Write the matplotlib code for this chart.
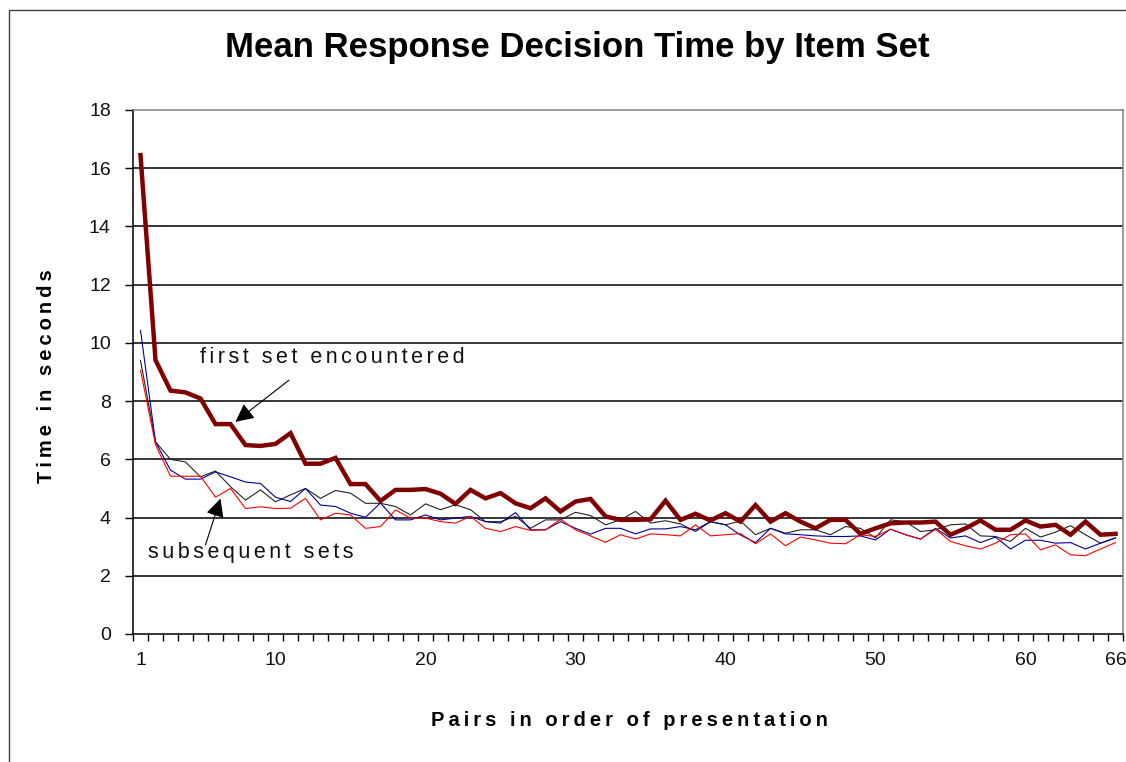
import numpy as np
import matplotlib
matplotlib.use('Agg')
import matplotlib.pyplot as plt
from matplotlib.patches import Rectangle

# pair number (1..66) on the x axis
pairs = np.arange(1, 67)

# first set encountered (thick dark red)
first_set = [16.45, 9.41, 8.36, 8.3, 8.09, 7.21, 7.21, 6.49, 6.46, 6.53,
	6.9, 5.85, 5.85, 6.05, 5.15, 5.15, 4.57, 4.95, 4.95, 4.98,
	4.82, 4.47, 4.95, 4.66, 4.84, 4.49, 4.32, 4.66, 4.21, 4.55,
	4.64, 4.04, 3.92, 3.92, 3.94, 4.58, 3.92, 4.13, 3.9, 4.15,
	3.86, 4.43, 3.86, 4.15, 3.86, 3.63, 3.92, 3.92, 3.44, 3.63,
	3.8, 3.83, 3.83, 3.86, 3.41, 3.63, 3.9, 3.58, 3.58, 3.9,
	3.69, 3.75, 3.41, 3.86, 3.41, 3.44]

# subsequent sets (thin lines)
second_set = [9.4, 6.6, 6.0, 5.91, 5.4, 5.6, 5.06, 4.6, 4.95, 4.54,
	4.78, 5.0, 4.66, 4.93, 4.84, 4.49, 4.49, 4.38, 4.09, 4.47,
	4.27, 4.44, 4.27, 3.86, 3.86, 4.04, 3.63, 3.92, 3.92, 4.18,
	4.07, 3.75, 3.92, 4.21, 3.81, 3.89, 3.78, 3.52, 3.86, 3.75,
	3.88, 3.41, 3.63, 3.46, 3.58, 3.58, 3.41, 3.69, 3.63, 3.3,
	3.92, 3.86, 3.52, 3.58, 3.75, 3.78, 3.37, 3.35, 3.18, 3.63,
	3.33, 3.5, 3.72, 3.41, 3.12, 3.3]

third_set = [10.43, 6.6, 5.63, 5.32, 5.32, 5.57, 5.4, 5.22, 5.17, 4.7,
	4.55, 5.0, 4.43, 4.38, 4.15, 4.01, 4.5, 3.92, 3.92, 4.09,
	3.92, 3.98, 4.04, 3.86, 3.81, 4.17, 3.58, 3.58, 3.86, 3.63,
	3.43, 3.63, 3.63, 3.44, 3.61, 3.61, 3.69, 3.58, 3.86, 3.75,
	3.4, 3.14, 3.63, 3.44, 3.41, 3.37, 3.35, 3.35, 3.37, 3.23,
	3.6, 3.41, 3.26, 3.63, 3.3, 3.37, 3.14, 3.33, 2.92, 3.22,
	3.22, 3.12, 3.14, 2.92, 3.12, 3.3]

fourth_set = [9.06, 6.5, 5.42, 5.42, 5.42, 4.7, 5.0, 4.31, 4.37, 4.31,
	4.32, 4.66, 3.92, 4.15, 4.09, 3.63, 3.69, 4.26, 3.98, 3.98,
	3.86, 3.81, 4.04, 3.63, 3.52, 3.69, 3.56, 3.58, 3.94, 3.58,
	3.37, 3.15, 3.41, 3.26, 3.44, 3.41, 3.37, 3.75, 3.37, 3.41,
	3.45, 3.1, 3.44, 3.03, 3.33, 3.23, 3.12, 3.1, 3.41, 3.35,
	3.6, 3.41, 3.26, 3.6, 3.18, 3.03, 2.92, 3.12, 3.41, 3.44,
	2.89, 3.06, 2.72, 2.69, 2.92, 3.14]

x_tick_labels = [1, 10, 20, 30, 40, 50, 60, 66]
y_ticks = list(range(0, 19, 2))

TICK_FONT = ['Liberation Sans Narrow', 'Liberation Sans', 'DejaVu Sans']
TEXT_FONT = ['Liberation Sans', 'DejaVu Sans']


def spaced(txt, sep='\u2009'):
	# mimic the letter spacing of the original texts
	return sep.join(txt)


def draw_chart():
	fig = plt.figure(figsize=(11.26, 7.62), dpi=100)
	ax = fig.add_axes([133/1126, 1-634/762, 990/1126, 524/762])

	# thin lines first, the first set on top
	ax.plot(pairs, second_set, color='#222222', lw=0.8, zorder=3)
	ax.plot(pairs, third_set, color='#000099', lw=0.8, zorder=3)
	ax.plot(pairs, fourth_set, color='#ff0000', lw=0.8, zorder=3)
	ax.plot(pairs, first_set, color='#800000', lw=3.2, zorder=4,
		solid_joinstyle='miter')

	ax.set_xlim(0.5, 66.5)
	ax.set_ylim(0, 18)

	# gridlines
	for y in y_ticks[1:-1]:
		ax.axhline(y, color='black', lw=1.1, zorder=1)

	# spines
	ax.spines['left'].set_color('black')
	ax.spines['bottom'].set_color('black')
	ax.spines['top'].set_color('#808080')
	ax.spines['right'].set_color('#808080')
	for s in ax.spines.values():
		s.set_linewidth(1.1)

	# y axis
	ax.set_yticks(y_ticks)
	ax.set_yticklabels([str(v) for v in y_ticks], family=TICK_FONT,
		fontsize=14, color='#111111')
	ax.tick_params(axis='y', direction='out', length=6, width=1, pad=10)

	# x axis: ticks between categories, labels on some categories
	ax.set_xticks(np.arange(0.5, 67, 1))
	ax.set_xticklabels([])
	ax.tick_params(axis='x', which='major', direction='out', length=5, width=1)
	ax.set_xticks(x_tick_labels, minor=True)
	ax.set_xticklabels([str(v) for v in x_tick_labels], minor=True,
		family=TICK_FONT, fontsize=14, color='#111111')
	ax.tick_params(axis='x', which='minor', length=0, pad=13)

	# annotations
	arrow = dict(arrowstyle='-|>', color='black', lw=0.8,
		mutation_scale=28, shrinkA=0, shrinkB=0)
	ax.annotate('', xy=(7.33, 7.29), xytext=(10.9, 8.72),
		arrowprops=arrow, zorder=6)
	ax.text(5.0, 9.5, spaced('first set encountered', '\u200a\u200a'),
		family=TEXT_FONT, fontsize=15.5, va='center', color='#111111',
		zorder=6)
	ax.annotate('', xy=(6.33, 4.65), xytext=(5.33, 3.06),
		arrowprops=arrow, zorder=6)
	ax.text(1.47, 2.79, spaced('subsequent sets', '\u200a\u200a'),
		family=TEXT_FONT, fontsize=15.5, va='center', color='#111111',
		zorder=6)

	# titles
	fig.text(577/1126, 1-48/762, 'Mean Response Decision Time by Item Set',
		family=TEXT_FONT, fontsize=25, fontweight='bold',
		ha='center', va='center')
	fig.text(629/1126, 1-720/762, spaced('Pairs in order of presentation'),
		family=TEXT_FONT, fontsize=14.5, fontweight='bold',
		ha='center', va='center')
	fig.text(47/1126, 1-376/762, spaced('Time in seconds'),
		family=TEXT_FONT, fontsize=14.5, fontweight='bold',
		ha='center', va='center', rotation=90)

	# chart area border
	fig.patches.append(Rectangle((9/1126, -0.05), 2, 1-10/762+0.05,
		transform=fig.transFigure, fill=False, edgecolor='#404040', lw=1))

	fig.savefig('out.png', dpi=100)


def main():
	draw_chart()


if __name__ == '__main__':
	main()
